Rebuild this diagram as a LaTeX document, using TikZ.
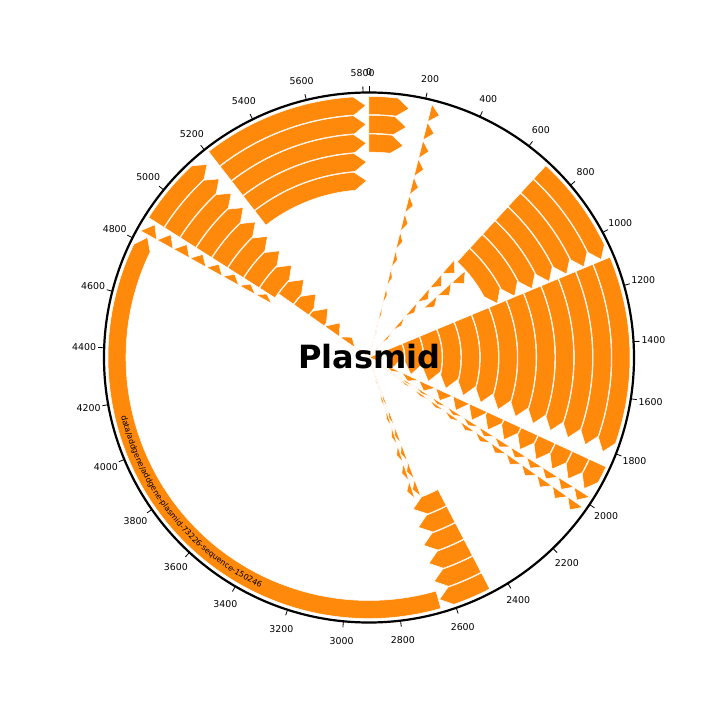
\documentclass[tikz,border=0pt]{standalone}
\usepackage{fontspec}
\setmainfont{DejaVu Sans}
\usetikzlibrary{decorations.text}
\definecolor{forg}{RGB}{255,137,10}
\def\Lbp{5821}
\newcommand\feat[3]{%
\pgfmathsetmacro\fRo{261-18.8*#3}%
\pgfmathsetmacro\fRi{max(\fRo-18,0.3)}%
\pgfmathsetmacro\fRm{(\fRo+\fRi)/2}%
\pgfmathsetmacro\fAs{90-#1/\Lbp*360}%
\pgfmathsetmacro\fAe{90-#2/\Lbp*360}%
\pgfmathsetmacro\fHd{min(12/\fRm*57.2958,\fAs-\fAe)}%
\pgfmathsetmacro\fAh{\fAe+\fHd}%
\filldraw[featsty] (\fAs:\fRo pt) arc[start angle=\fAs,end angle=\fAh,radius=\fRo pt] -- (\fAe:\fRm pt) -- (\fAh:\fRi pt) arc[start angle=\fAh,end angle=\fAs,radius=\fRi pt] -- cycle;}
\tikzset{featsty/.style={fill=forg,draw=white,line width=0.5pt,line join=round}}
\begin{document}
\begin{tikzpicture}
\useasboundingbox (-369pt,-362.5pt) rectangle (351pt,357.5pt);
% big band
\feat{2652}{4826}{0}
% group A
\foreach \k in {0,1,2} {\feat{0}{148}{\k}}
% group B
\foreach \k in {0,...,4} {\feat{5208}{5809}{\k}}
% chain 244
\foreach \k in {0,...,13} {\feat{226}{262}{\k}}
% group 3
\foreach \k in {0,...,6} {\feat{690}{1085}{\k}}
\foreach \k in {7,...,13} {\feat{665}{735}{\k}}
\foreach \k in {7,8,9} {\feat{775}{845}{\k}}
% group 5
\foreach \k in {0,...,13} {\feat{1090}{1810}{\k}}
% group 5b and rows
\foreach \k in {0,...,13} {\feat{1856}{1962}{\k}\feat{1978}{2012}{\k}\feat{2022}{2056}{\k}}
% group 8
\foreach \k in {0,...,5} {\feat{2465}{2648}{\k}}
\foreach \k in {6,...,13} {\feat{2580}{2615}{\k}\feat{2620}{2655}{\k}}
% group 9
\foreach \k in {0,...,7} {\feat{4835}{4880}{\k}\feat{4890}{5174}{\k}}
\foreach \k in {8,...,13} {\feat{4935}{5174}{\k}}
% label on big band
\pgfmathsetmacro\tA{90-4335/\Lbp*360}
\pgfmathsetmacro\tB{90-3135/\Lbp*360}
\path[decorate,decoration={text along path,text align=center,text={|\fontsize{7.9}{9}\selectfont|data/addgene/addgene-plasmid-73226-sequence-150246}}] (\tA:254.6pt) arc[start angle=\tA,end angle=\tB,radius=254.6pt];
% circle and ticks
\draw[line width=2.2pt] (0,0) circle[radius=265pt];
\foreach \b in {0,200,...,5800} {
 \pgfmathsetmacro\ta{90-\b/\Lbp*360}
 \draw[line width=0.8pt] (\ta:265pt) -- (\ta:271pt);
 \node[font=\fontsize{9.4}{11}\selectfont,inner sep=0pt] (t\b) at (\ta:285pt) {\b};
}
\node[font=\fontsize{32}{36}\selectfont\bfseries,inner sep=0pt] (title) at (0.5pt,1pt) {Plasmid};
\end{tikzpicture}
\end{document}
